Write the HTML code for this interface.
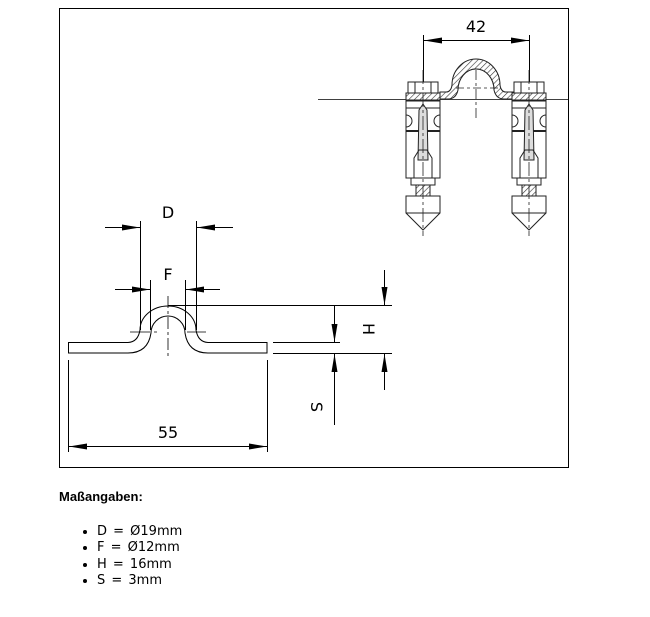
<!DOCTYPE html>
<html><head><meta charset="utf-8"><style>
body{margin:0;background:#fff;width:650px;height:617px;overflow:hidden;position:relative;font-family:"DejaVu Sans",Verdana,sans-serif}
.t{position:absolute;left:59px;top:489px;font:bold 13px "Liberation Sans",Arial,sans-serif;color:#000}
ul{position:absolute;left:60px;top:524px;margin:0;padding:0 0 0 37px;font-size:13px;line-height:16.3px;color:#000;word-spacing:2px}
</style></head><body>
<svg width="650" height="617" style="position:absolute;left:0;top:0" font-family="DejaVu Sans,Liberation Sans,sans-serif">
<defs>
<marker id="a" viewBox="0 0 18 6" refX="18" refY="3" markerWidth="18" markerHeight="6" markerUnits="userSpaceOnUse" orient="auto"><path d="M0,0L18,3L0,6z" fill="#000"/></marker>
<pattern id="h" width="4" height="4" patternUnits="userSpaceOnUse" patternTransform="rotate(45)"><rect width="4" height="4" fill="#fff"/><line x1="0" y1="0" x2="0" y2="4" stroke="#333" stroke-width="1.2"/></pattern>
<g id="bolt" fill="#fff" stroke="#222" stroke-width="1">
<rect x="-15" y="82" width="30" height="11"/>
<line x1="-8" y1="82" x2="-8" y2="93"/><line x1="8" y1="82" x2="8" y2="93"/>
<rect x="-17" y="93" width="34" height="7" fill="url(#h)"/>
<rect x="-17" y="101" width="34" height="77"/>
<line x1="-17" y1="108" x2="17" y2="108"/>
<path d="M-17,115 a6,6 0 0 1 0,12 M17,115 a6,6 0 0 0 0,12" fill="none"/>
<line x1="-17" y1="131" x2="17" y2="131" stroke-width="2"/>
<path d="M-4,110 L0,104 L4,110 L5,160 L-5,160z" fill="#ddd"/>
<path d="M-9,178 L-9,158 L-4,150 L4,150 L9,158 L9,178" fill="none"/>
<rect x="-12" y="178" width="24" height="7"/>
<rect x="-7" y="185" width="14" height="11" fill="url(#h)"/>
<path d="M-17,196 H17 V213 L0,230 L-17,213z"/>
<line x1="-17" y1="213" x2="17" y2="213"/>
<line x1="0" y1="70" x2="0" y2="236" stroke-dasharray="14,3,3,3" stroke-width="0.8"/>
</g>
</defs>
<rect x="59.5" y="8.5" width="509" height="459" fill="#fff" stroke="#000"/>
<g stroke="#000" stroke-width="1" fill="none">
<line x1="318" y1="99.5" x2="568" y2="99.5" stroke-width="0.8"/>
<line x1="423.5" y1="35" x2="423.5" y2="82"/><line x1="529.5" y1="35" x2="529.5" y2="82"/>
<line x1="476" y1="40.5" x2="424" y2="40.5" marker-end="url(#a)"/>
<line x1="476" y1="40.5" x2="529" y2="40.5" marker-end="url(#a)"/>
</g>
<path d="M440,99 L448,99 Q456,99 458,90 A18,21 0 0 1 494,90 Q496,99 504,99 L513,99 L513,92 L506,92 Q501,92 500,85 A24,26 0 0 0 452,85 Q451,92 446,92 L440,92z" fill="url(#h)" stroke="#222"/>
<path d="M458,90 A18,21 0 0 1 494,90" fill="#fff" stroke="#222"/>
<g stroke="#222" stroke-width="0.8"><line x1="476" y1="70" x2="476" y2="120" stroke-dasharray="10,3,3,3"/><line x1="456" y1="88" x2="498" y2="88" stroke-dasharray="8,3,3,3"/></g>
<use href="#bolt" x="423"/><use href="#bolt" x="529"/>
<text x="476" y="32" font-size="16" text-anchor="middle">42</text>
<g stroke="#000" stroke-width="1" fill="none">
<path d="M68.5,342.5 H128 Q138,342 140,330 A28,24 0 0 1 196,330 Q198,342 208,342.5 H267 V353 H208 Q188,353 185,333 A17,17 0 0 0 151,333 Q148,353 128,353 H68.5z" fill="#fff"/>
<line x1="140.5" y1="221" x2="140.5" y2="330"/><line x1="196.5" y1="221" x2="196.5" y2="330"/>
<line x1="105" y1="227.5" x2="140" y2="227.5" marker-end="url(#a)"/>
<line x1="233" y1="227.5" x2="197" y2="227.5" marker-end="url(#a)"/>
<line x1="150.5" y1="280" x2="150.5" y2="330"/><line x1="185.5" y1="280" x2="185.5" y2="330"/>
<line x1="115" y1="289.5" x2="150" y2="289.5" marker-end="url(#a)"/>
<line x1="220" y1="289.5" x2="186" y2="289.5" marker-end="url(#a)"/>
<line x1="168" y1="296" x2="168" y2="356" stroke-dasharray="12,3,3,3" stroke-width="0.8"/>
<line x1="130" y1="332" x2="206" y2="332" stroke-dasharray="20,4,3,30" stroke-width="0.8"/>
<line x1="168" y1="305.5" x2="392" y2="305.5"/>
<line x1="273" y1="342.5" x2="340" y2="342.5"/>
<line x1="273" y1="353.5" x2="392" y2="353.5"/>
<line x1="334.5" y1="306" x2="334.5" y2="342" marker-end="url(#a)"/>
<line x1="334.5" y1="425" x2="334.5" y2="354" marker-end="url(#a)"/>
<line x1="384.5" y1="270" x2="384.5" y2="305" marker-end="url(#a)"/>
<line x1="384.5" y1="390" x2="384.5" y2="354" marker-end="url(#a)"/>
<line x1="68.5" y1="360" x2="68.5" y2="452"/><line x1="267.5" y1="360" x2="267.5" y2="452"/>
<line x1="168" y1="446.5" x2="69" y2="446.5" marker-end="url(#a)"/>
<line x1="168" y1="446.5" x2="267" y2="446.5" marker-end="url(#a)"/>
</g>
<g font-size="16" text-anchor="middle">
<text x="168" y="218">D</text>
<text x="168" y="280">F</text>
<text x="168" y="438">55</text>
<text transform="translate(363,329) rotate(90)">H</text>
<text transform="translate(311,407) rotate(90)">S</text>
</g>
</svg>
<div class="t">Maßangaben:</div>
<ul><li>D = Ø19mm</li><li>F = Ø12mm</li><li>H = 16mm</li><li>S = 3mm</li></ul>
</body></html>
